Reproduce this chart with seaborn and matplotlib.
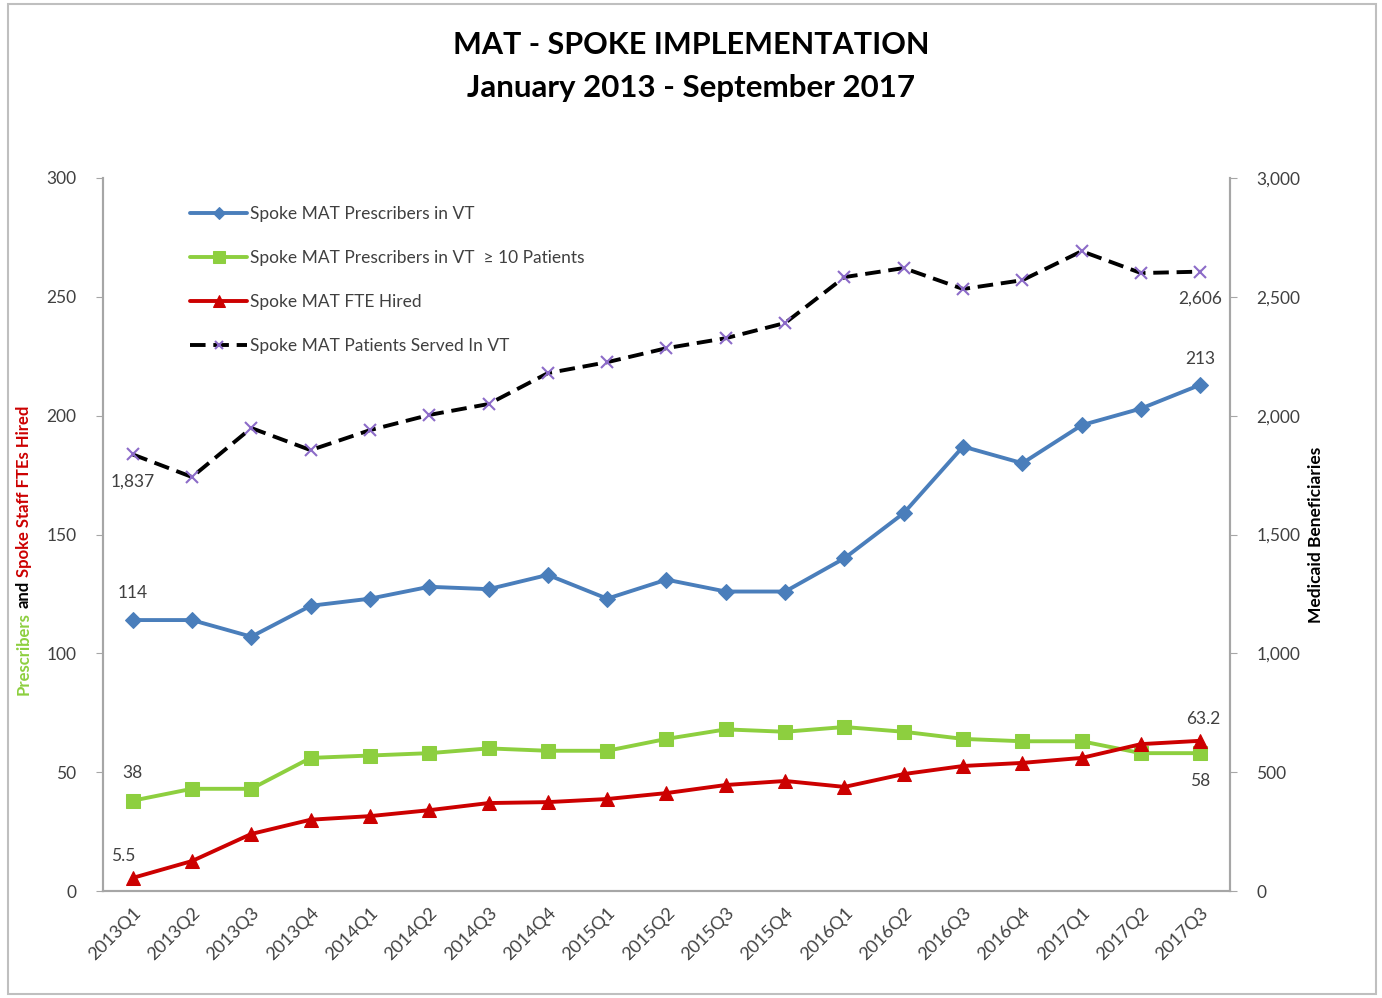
import numpy as np
import pandas as pd
import matplotlib
matplotlib.use("Agg")
import matplotlib.pyplot as plt
from matplotlib.patches import Rectangle
import seaborn as sns

quarters = ['2013Q1', '2013Q2', '2013Q3', '2013Q4',
            '2014Q1', '2014Q2', '2014Q3', '2014Q4',
            '2015Q1', '2015Q2', '2015Q3', '2015Q4',
            '2016Q1', '2016Q2', '2016Q3', '2016Q4',
            '2017Q1', '2017Q2', '2017Q3']
prescribers = [114, 114, 107, 120, 123, 128, 127, 133, 123, 131, 126, 126,
               140, 159, 187, 180, 196, 203, 213]
prescribers_10 = [38, 43, 43, 56, 57, 58, 60, 59, 59, 64, 68, 67,
                  69, 67, 64, 63, 63, 58, 58]
fte_hired = [5.5, 12.6, 24, 30, 31.5, 34, 37, 37.4, 38.7, 41.2, 44.6, 46.3,
             43.8, 49.2, 52.6, 53.9, 56, 61.8, 63.2]
patients = [1837, 1742, 1948, 1855, 1939, 2003, 2049, 2179, 2225, 2284, 2326, 2390,
            2583, 2621, 2533, 2570, 2692, 2600, 2606]

df = pd.DataFrame({'idx': np.arange(len(quarters)), 'quarter': quarters,
                   'prescribers': prescribers, 'prescribers_10': prescribers_10,
                   'fte': fte_hired, 'patients': patients})

sns.set_style("white")
plt.rcParams['font.family'] = ['Lato', 'DejaVu Sans']

BLUE = '#4A7EBB'
GREEN = '#8DCF3F'
RED = '#CC0000'
GRAY = '#A6A6A6'

W, H = 1382, 998
fig = plt.figure(figsize=(W / 100, H / 100), dpi=100)
ax = fig.add_axes([103 / W, 1 - 891 / H, (1230 - 103) / W, (891 - 178) / H])
ax2 = ax.twinx()

sns.lineplot(data=df, x='idx', y='prescribers', ax=ax, color=BLUE, lw=2.8,
             marker='D', markersize=8, markeredgecolor=BLUE,
             label='Spoke MAT Prescribers in VT', legend=False)
sns.lineplot(data=df, x='idx', y='prescribers_10', ax=ax, color=GREEN, lw=2.8,
             marker='s', markersize=10, markeredgecolor=GREEN,
             label='Spoke MAT Prescribers in VT  \u2265 10 Patients', legend=False)
sns.lineplot(data=df, x='idx', y='fte', ax=ax, color=RED, lw=2.8,
             marker='^', markersize=10, markeredgecolor=RED,
             label='Spoke MAT FTE Hired', legend=False)
sns.lineplot(data=df, x='idx', y='patients', ax=ax2, color='black', lw=2.8,
             linestyle=(0, (4, 2)), marker='x', markersize=8,
             markeredgecolor='#8C6BC8', markeredgewidth=1.5,
             label='Spoke MAT Patients Served In VT', legend=False)

ax.set_xlim(-0.5, len(quarters) - 0.5)
ax.set_ylim(0, 300)
ax2.set_ylim(0, 3000)
ax.set_yticks(range(0, 301, 50))
ax2.set_yticks(range(0, 3001, 500))
ax2.set_yticklabels([f'{v:,}' for v in range(0, 3001, 500)])

ax.set_xticks(np.arange(len(quarters)))
ax.set_xticklabels(quarters, rotation=45, ha='right', rotation_mode='anchor')
ax.set_xticks(np.arange(len(quarters) + 1) - 0.5, minor=True)
ax.tick_params(axis='x', which='major', length=0, pad=10, labelsize=13, labelcolor='#404040')
ax.tick_params(axis='x', which='minor', length=5, color=GRAY, direction='out')
ax.tick_params(axis='y', length=5, color=GRAY, direction='out', labelsize=12.5,
               labelcolor='#404040', pad=14, left=True)
ax2.tick_params(axis='y', length=5, color=GRAY, direction='out', labelsize=12.5,
                labelcolor='#404040', pad=14, right=True)

for a in (ax, ax2):
    a.set_xlabel('')
    a.set_ylabel('')
    a.spines['top'].set_visible(False)
    for s in ('left', 'right', 'bottom'):
        a.spines[s].set_color(GRAY)
        a.spines[s].set_linewidth(1.5)

# data labels
lbl = dict(fontsize=12.5, color='#404040', ha='center')
ax.annotate('114', (0, prescribers[0]), xytext=(0, 14), textcoords='offset points', va='bottom', **lbl)
ax.annotate('38', (0, prescribers_10[0]), xytext=(0, 14), textcoords='offset points', va='bottom', **lbl)
ax.annotate('5.5', (0, fte_hired[0]), xytext=(-7, 10), textcoords='offset points', va='bottom', **lbl)
ax2.annotate('1,837', (0, patients[0]), xytext=(0, -14), textcoords='offset points', va='top', **lbl)
ax.annotate('213', (18, prescribers[-1]), xytext=(0, 13), textcoords='offset points', va='bottom', **lbl)
ax.annotate('63.2', (18, fte_hired[-1]), xytext=(2, 10), textcoords='offset points', va='bottom', **lbl)
ax.annotate('58', (18, prescribers_10[-1]), xytext=(0, -14), textcoords='offset points', va='top', **lbl)
ax2.annotate('2,606', (18, patients[-1]), xytext=(0, -14), textcoords='offset points', va='top', **lbl)

h1, l1 = ax.get_legend_handles_labels()
h2, l2 = ax2.get_legend_handles_labels()
leg = ax2.legend(h1 + h2, l1 + l2, loc='upper left', bbox_to_anchor=(0.071, 0.97),
                 frameon=False, fontsize=12.5, labelspacing=1.6, handlelength=3.3,
                 handletextpad=0.15, borderaxespad=0, markerscale=0.8)
for t in leg.get_texts():
    t.set_color('#404040')

# title
fig.text(0.5, 1 - 45 / H, 'MAT - SPOKE IMPLEMENTATION', ha='center', va='center',
         fontsize=22, fontweight='bold', color='black')
fig.text(0.5, 1 - 88 / H, 'January 2013 - September 2017', ha='center', va='center',
         fontsize=22.5, fontweight='bold', color='black')

# left axis label in three colours, stacked bottom to top
renderer = fig.canvas.get_renderer()
y_px = 695
for txt, col in [('Prescribers', GREEN), ('and', 'black'), ('Spoke Staff FTEs Hired', RED)]:
    t = fig.text(24 / W, 1 - y_px / H, txt, rotation=90, ha='center', va='bottom',
                 fontsize=12, fontweight='bold', color=col)
    ext = t.get_window_extent(renderer)
    y_px -= ext.height + 4
fig.text(1316 / W, 1 - 535 / H, 'Medicaid Beneficiaries', rotation=90, ha='center', va='center',
         fontsize=12.5, fontweight='bold', color='black')

fig.patches.append(Rectangle((8 / W, 4 / H), 1368 / W, 990 / H,
                             transform=fig.transFigure, fill=False, edgecolor='#BFBFBF', lw=1.5))

fig.savefig('out.png', dpi=100)
